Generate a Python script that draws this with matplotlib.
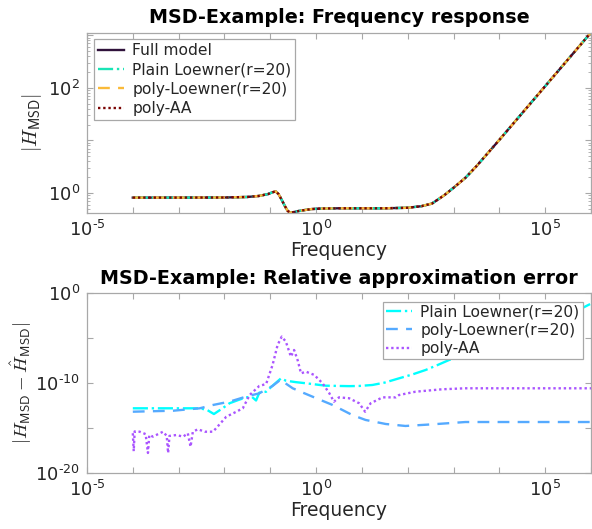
import numpy as np
import matplotlib
matplotlib.use("Agg")
import matplotlib.pyplot as plt
from matplotlib.ticker import FixedLocator, FuncFormatter, NullLocator

# ---------------- data (log10 values) ----------------
# Top panel: frequency response magnitude
freq_top_exp = [-4.0, -3.0, -2.0, -1.5, -1.25, -1.05, -0.95, -0.88, -0.82, -0.75,
                -0.68, -0.62, -0.57, -0.5, -0.4, -0.3, -0.1, 0.1, 0.5, 1.0, 1.5,
                2.0, 2.3, 2.53, 2.8, 3.0, 3.26, 3.5, 4.0, 5.0, 6.0]
H_full_exp = [-0.087, -0.087, -0.085, -0.075, -0.056, -0.02, 0.015, 0.03, -0.02, -0.13,
              -0.25, -0.34, -0.37, -0.365, -0.345, -0.33, -0.305, -0.295, -0.29, -0.29, -0.29,
              -0.28, -0.25, -0.20, -0.04, 0.10, 0.29, 0.51, 1.01, 2.03, 3.05]
H_plain_exp = H_full_exp
H_polyL_exp = H_full_exp
H_polyAA_exp = H_full_exp

# Bottom panel: relative approximation error
err_plain_f = [-4.0, -3.0, -2.54, -2.38, -2.23, -2.05, -1.89, -1.7, -1.53, -1.4, -1.31,
               -1.24, -1.09, -0.95, -0.765, -0.66, -0.45, -0.22, 0.21, 0.72, 0.94, 1.23,
               1.5, 1.81, 2.1, 2.39, 2.65, 2.9, 3.04, 3.5, 4.0, 4.5, 5.0, 5.5, 5.8, 6.0]
err_plain = [-12.82, -12.82, -12.82, -13.0, -13.46, -12.85, -12.26, -11.9, -11.6, -11.55, -11.95,
             -11.08, -10.97, -10.3, -9.48, -9.74, -9.9, -10.03, -10.3, -10.35, -10.33, -10.22,
             -9.95, -9.48, -9.05, -8.55, -8.0, -7.44, -7.25, -6.3, -5.3, -4.3, -3.3, -2.35, -1.67, -1.15]

err_polyL_f = [-4.0, -3.12, -2.54, -2.25, -1.89, -1.53, -1.24, -0.95, -0.765, -0.65, -0.51,
               -0.3, -0.08, 0.36, 0.79, 1.08, 1.52, 1.95, 2.53, 3.26, 4.71, 6.0]
err_polyL = [-13.2, -13.09, -12.82, -12.45, -12.08, -11.52, -11.15, -10.33, -9.59, -10.1, -10.59,
             -11.05, -11.52, -12.45, -13.57, -14.12, -14.57, -14.79, -14.61, -14.35, -14.35, -14.35]

err_polyAA_f = [-4.0, -3.98, -3.96, -3.85, -3.72, -3.67, -3.64, -3.56, -3.45, -3.34, -3.26,
                -3.23, -3.20, -3.05, -2.9, -2.8, -2.74, -2.69, -2.58, -2.43, -2.25, -2.1,
                -1.96, -1.74, -1.6, -1.45, -1.24, -1.09, -0.95, -0.84, -0.75, -0.66, -0.55,
                -0.48, -0.4, -0.33, -0.22, -0.04, 0.14, 0.29, 0.39, 0.5, 0.72, 0.94, 1.07,
                1.19, 1.45, 1.74, 1.81, 2.17, 2.75, 3.26, 6.0]
err_polyAA = [-15.6, -17.6, -15.4, -15.43, -15.7, -17.8, -15.8, -15.98, -15.7, -15.43, -15.9,
              -17.8, -15.9, -15.8, -15.98, -15.6, -17.1, -15.43, -15.16, -15.43, -15.43, -14.57,
              -13.76, -13.2, -12.82, -11.34, -10.33, -10.11, -7.99, -5.76, -4.83, -5.39, -7.06,
              -6.32, -7.5, -8.92, -8.74, -9.1, -10.03, -11.15, -12.08, -11.6, -11.7, -12.26, -13.2,
              -12.26, -11.6, -11.6, -11.34, -10.97, -10.7, -10.59, -10.59]

top_labels = ["Full model", "Plain Loewner(r=20)", "poly-Loewner(r=20)", "poly-AA"]
bottom_labels = ["Plain Loewner(r=20)", "poly-Loewner(r=20)", "poly-AA"]
top_title = "MSD-Example: Frequency response"
bottom_title = "MSD-Example: Relative approximation error"

# ---------------- styling ----------------
plt.rcParams['font.family'] = ['DejaVu Sans']
plt.rcParams['mathtext.fontset'] = 'cm'
W, H = 592, 529
fig = plt.figure(figsize=(W / 100, H / 100), dpi=100)

spine_col = '#a8a8a8'
text_col = '#262626'
lw = 1.7
TICK_FS = 13
LABEL_FS = 13.5
TITLE_FS = 13.8
LEG_FS = 11.2
HYPHEN = '\u2010'

def p(v):
    return np.power(10.0, np.asarray(v, dtype=float))

def ax_rect(l, t, r, b):
    return [l / W, 1 - b / H, (r - l) / W, (b - t) / H]

ax1 = fig.add_axes(ax_rect(87, 32.5, 591, 212.5))
ax2 = fig.add_axes(ax_rect(87, 293.3, 591, 472.7))

def exp_fmt(step):
    def f(v, pos):
        k = int(round(np.log10(v)))
        if k % step == 0:
            if k < 0:
                return '$\\mathdefault{10^{' + HYPHEN + str(-k) + '}}$'
            return '$\\mathdefault{10^{' + str(k) + '}}$'
        return ''
    return FuncFormatter(f)

for ax in (ax1, ax2):
    ax.set_xscale('log')
    ax.set_yscale('log')
    ax.set_xlim(1e-5, 1e6)
    for s in ax.spines.values():
        s.set_color(spine_col)
        s.set_linewidth(0.9)
    ax.xaxis.set_major_locator(FixedLocator(p(range(-5, 7))))
    ax.xaxis.set_major_formatter(exp_fmt(5))
    ax.xaxis.set_minor_locator(NullLocator())
    ax.tick_params(which='both', direction='in', top=True, right=True,
                   color=spine_col, labelcolor=text_col, labelsize=TICK_FS)
    ax.tick_params(which='major', length=4.5, width=0.8, pad=5)
    ax.tick_params(which='minor', length=2.5, width=0.6)
    ax.set_xlabel('Frequency', fontsize=LABEL_FS, color=text_col, labelpad=1)

# ---- top panel ----
fx = p(freq_top_exp)
ax1.plot(fx, p(H_full_exp), color='#30123B', lw=lw, ls='-', label=top_labels[0])
ax1.plot(fx, p(H_plain_exp), color='#1AE4B6', lw=lw, ls='-.', label=top_labels[1])
ax1.plot(fx, p(H_polyL_exp), color='#FABA39', lw=lw, ls=(0, (5, 3.5)), label=top_labels[2])
ax1.plot(fx, p(H_polyAA_exp), color='#7A0403', lw=lw, ls=(0, (1, 1.2)), label=top_labels[3])
ax1.set_ylim(10 ** -0.37, 10 ** 3.05)
ax1.yaxis.set_major_locator(FixedLocator(p(range(-1, 4))))
ax1.yaxis.set_major_formatter(exp_fmt(2))
minors = [m * 10.0 ** k for k in range(-1, 4) for m in range(2, 10)]
ax1.yaxis.set_minor_locator(FixedLocator(minors))
ax1.yaxis.set_minor_formatter(FuncFormatter(lambda v, pos: ''))
ax1.set_ylabel(r'$|H_{\mathsf{MSD}}|$', fontsize=LABEL_FS + 1, color=text_col)
ax1.yaxis.set_label_coords((44 - 87) / 504, 0.5)
ax1.set_title(top_title, fontsize=TITLE_FS, fontweight='bold', color='black', pad=7)
leg1 = ax1.legend(loc='upper left', bbox_to_anchor=(94.3 / W, 1 - 39.3 / H),
                  bbox_transform=fig.transFigure, borderaxespad=0, fontsize=LEG_FS,
                  frameon=True, fancybox=False, edgecolor=spine_col, framealpha=1,
                  handlelength=1.65, handletextpad=0.55, labelspacing=0.28,
                  borderpad=0.25)
leg1.get_frame().set_linewidth(0.9)
for t in leg1.get_texts():
    t.set_color(text_col)

# ---- bottom panel ----
ax2.plot(p(err_plain_f), p(err_plain), color='#00FFFF', lw=lw, ls='-.', label=bottom_labels[0])
ax2.plot(p(err_polyL_f), p(err_polyL), color='#55AAFF', lw=lw, ls=(0, (5, 3.5)), label=bottom_labels[1])
ax2.plot(p(err_polyAA_f), p(err_polyAA), color='#AA55FF', lw=lw, ls=(0, (1, 1.2)), label=bottom_labels[2])
ax2.set_ylim(1e-20, 1e0)
ax2.yaxis.set_major_locator(FixedLocator(p([-20, -15, -10, -5, 0])))
ax2.yaxis.set_major_formatter(exp_fmt(10))
ax2.yaxis.set_minor_locator(NullLocator())
ax2.set_ylabel(r'$|H_{\mathsf{MSD}}-\hat{H}_{\mathsf{MSD}}|$', fontsize=LABEL_FS,
               color=text_col)
ax2.yaxis.set_label_coords((34 - 87) / 504, 0.5)
ax2.set_title(bottom_title, fontsize=TITLE_FS, fontweight='bold', color='black', pad=7)
leg2 = ax2.legend(loc='upper right', bbox_to_anchor=(582.7 / W, 1 - 301.7 / H),
                  bbox_transform=fig.transFigure, borderaxespad=0, fontsize=LEG_FS,
                  frameon=True, fancybox=False, edgecolor=spine_col, framealpha=1,
                  handlelength=1.65, handletextpad=0.55, labelspacing=0.2,
                  borderpad=0.2)
leg2.get_frame().set_linewidth(0.9)
for t in leg2.get_texts():
    t.set_color(text_col)

fig.savefig('out.png', dpi=100)
